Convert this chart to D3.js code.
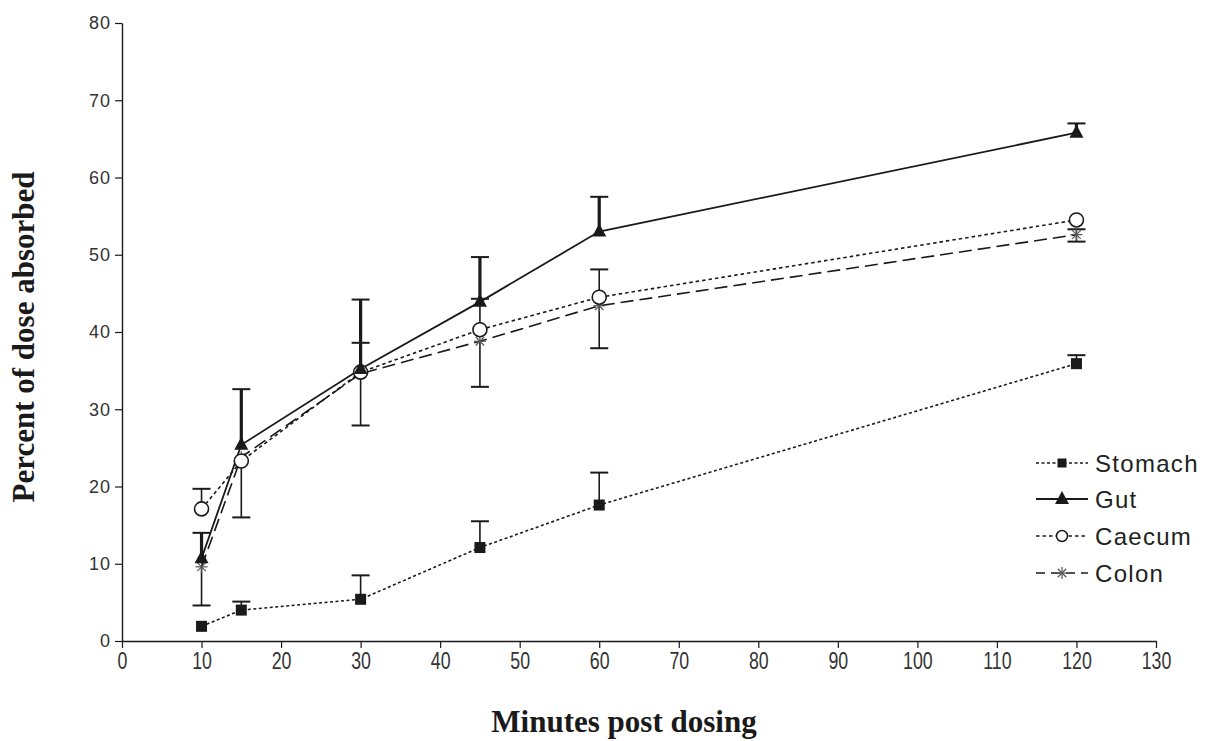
<!DOCTYPE html>
<html><head><meta charset="utf-8">
<script src="https://cdn.jsdelivr.net/npm/d3@7"></script>
<style>body{margin:0;background:#fff}svg{display:block}</style>
</head><body><svg id="c" width="1207" height="741"></svg>
<script>
const minutes = [10, 15, 30, 45, 60, 120];
const stomach = [1.9, 4.0, 5.4, 12.1, 17.6, 35.9];
const gut     = [10.7, 25.4, 35.2, 43.9, 53.0, 65.8];
const caecum  = [17.1, 23.3, 34.8, 40.3, 44.5, 54.5];
const colon   = [9.6, 23.8, 34.6, 38.8, 43.4, 52.6];
// error bar magnitudes (upward / downward as drawn)
const stomachErrUp = [0, 1.1, 3.1, 3.4, 4.2, 1.1];
const gutErrUp     = [3.3, 7.2, 9.0, 5.8, 4.5, 1.2];
const caecumErrUp  = [2.6, 0, 3.8, 4.0, 3.6, 0];
const colonErrDown = [5.0, 7.8, 6.7, 5.9, 5.5, 0.9];
const colonErrUp   = [0, 0, 0, 0, 0, 0.7];
const xTicks = [0,10,20,30,40,50,60,70,80,90,100,110,120,130];
const yTicks = [0,10,20,30,40,50,60,70,80];
const seriesNames = ["Stomach", "Gut", "Caecum", "Colon"];

const svg = d3.select("#c");
const x = d3.scaleLinear().domain([0,130]).range([122,1156]);
const y = d3.scaleLinear().domain([0,80]).range([641,23]);
const ink = "#1a1a1a";

// axes
const gx = svg.append("g").attr("transform","translate(0,641)")
  .call(d3.axisBottom(x).tickValues(xTicks).tickSize(7).tickSizeOuter(0).tickPadding(4));
gx.attr("font-size", 24);
gx.select(".domain").attr("stroke",ink).attr("stroke-width",1.6);
gx.selectAll(".tick line").attr("stroke",ink).attr("stroke-width",1.2);
gx.selectAll(".tick text").attr("fill","#333").attr("transform","scale(0.74,1)")
  .attr("font-family","'Liberation Sans',Arial,sans-serif").attr("font-size",24);

const gy = svg.append("g").attr("transform","translate(122,0)")
  .call(d3.axisLeft(y).tickValues(yTicks).tickSize(7).tickSizeOuter(0).tickPadding(4));
gy.attr("font-size", 18);
gy.select(".domain").attr("stroke",ink).attr("stroke-width",1.4);
gy.selectAll(".tick line").attr("stroke",ink).attr("stroke-width",1.2);
gy.selectAll(".tick text").attr("fill","#333").style("letter-spacing","1px")
  .attr("font-family","'Liberation Sans',Arial,sans-serif").attr("font-size",18);

// titles
svg.append("text").attr("x",624).attr("y",732).attr("text-anchor","middle")
  .style("font-family","'Liberation Serif','Times New Roman',serif").style("font-weight","bold").style("font-size","31px")
  .attr("fill",ink).text("Minutes post dosing");
svg.append("text").attr("transform","translate(34,337) rotate(-90)").attr("text-anchor","middle")
  .style("font-family","'Liberation Serif','Times New Roman',serif").style("font-weight","bold").style("font-size","31px")
  .attr("fill",ink).text("Percent of dose absorbed");

const styles = {
  Stomach: {data: stomach, dash: "3,2.5", w: 1.6},
  Gut: {data: gut, dash: null, w: 1.8},
  Caecum: {data: caecum, dash: "3.5,3", w: 1.6},
  Colon: {data: colon, dash: "13,6", w: 1.6}
};

function errBars(vals, err, dir, w) {
  const g = svg.append("g").attr("stroke",ink).attr("stroke-width",w);
  minutes.forEach((m,i) => {
    if (!err[i]) return;
    const y0 = y(vals[i]), y1 = y(vals[i] + dir*err[i]);
    g.append("line").attr("x1",x(m)).attr("x2",x(m)).attr("y1",y0).attr("y2",y1);
    g.append("line").attr("x1",x(m)-9).attr("x2",x(m)+9).attr("y1",y1).attr("y2",y1).attr("stroke-width",2);
  });
}
errBars(colon, colonErrDown, -1, 1.6);
errBars(colon, colonErrUp, 1, 1.6);
errBars(caecum, caecumErrUp, 1, 1.6);
errBars(stomach, stomachErrUp, 1, 1.6);
errBars(gut, gutErrUp, 1, 3.2);

const line = d3.line().x((d,i)=>x(minutes[i])).y(d=>y(d));
["Colon","Caecum","Stomach","Gut"].forEach(n => {
  const s = styles[n];
  svg.append("path").attr("d", line(s.data)).attr("fill","none").attr("stroke",ink)
    .attr("stroke-width", s.w).attr("stroke-dasharray", s.dash);
});

function marker(g, name, cx, cy) {
  if (name==="Stomach") g.append("rect").attr("x",cx-5.5).attr("y",cy-5.5).attr("width",11).attr("height",11).attr("fill",ink);
  else if (name==="Gut") g.append("path").attr("d",`M${cx},${cy-8}L${cx+7},${cy+5}L${cx-7},${cy+5}Z`).attr("fill",ink);
  else if (name==="Caecum") g.append("circle").attr("cx",cx).attr("cy",cy).attr("r",7).attr("fill","#fff").attr("stroke",ink).attr("stroke-width",1.6);
  else {
    const a = g.append("g").attr("stroke","#555").attr("stroke-width",1.2);
    [0,45,90,135].forEach(ang=>{
      const r=6, dx=r*Math.cos(ang*Math.PI/180), dy=r*Math.sin(ang*Math.PI/180);
      a.append("line").attr("x1",cx-dx).attr("x2",cx+dx).attr("y1",cy-dy).attr("y2",cy+dy);
    });
  }
}
const mg = svg.append("g");
["Colon","Caecum","Stomach","Gut"].forEach(n => {
  styles[n].data.forEach((v,i)=>marker(mg, n, x(minutes[i]), y(v)));
});

// legend
const legY = [463, 499, 536, 573];
seriesNames.forEach((n,i) => {
  const s = styles[n], ly = legY[i];
  svg.append("line").attr("x1",1036).attr("x2",1088).attr("y1",ly).attr("y2",ly)
    .attr("stroke",ink).attr("stroke-width", n==="Gut" ? 2.2 : s.w).attr("stroke-dasharray", n==="Colon" ? "9,6" : s.dash);
  const lg = svg.append("g");
  if (n==="Caecum") lg.append("circle").attr("cx",1062).attr("cy",ly).attr("r",5.5).attr("fill","#fff").attr("stroke",ink).attr("stroke-width",1.5);
  else if (n==="Stomach") lg.append("rect").attr("x",1057.5).attr("y",ly-4.5).attr("width",9).attr("height",9).attr("fill",ink);
  else marker(lg, n, 1062, ly);
  svg.append("text").attr("x",1095).attr("y",ly+9).attr("fill","#222").style("letter-spacing","1.3px")
    .style("font-family","'Liberation Sans',Arial,sans-serif").style("font-size","24px").text(n);
});
</script></body></html>
